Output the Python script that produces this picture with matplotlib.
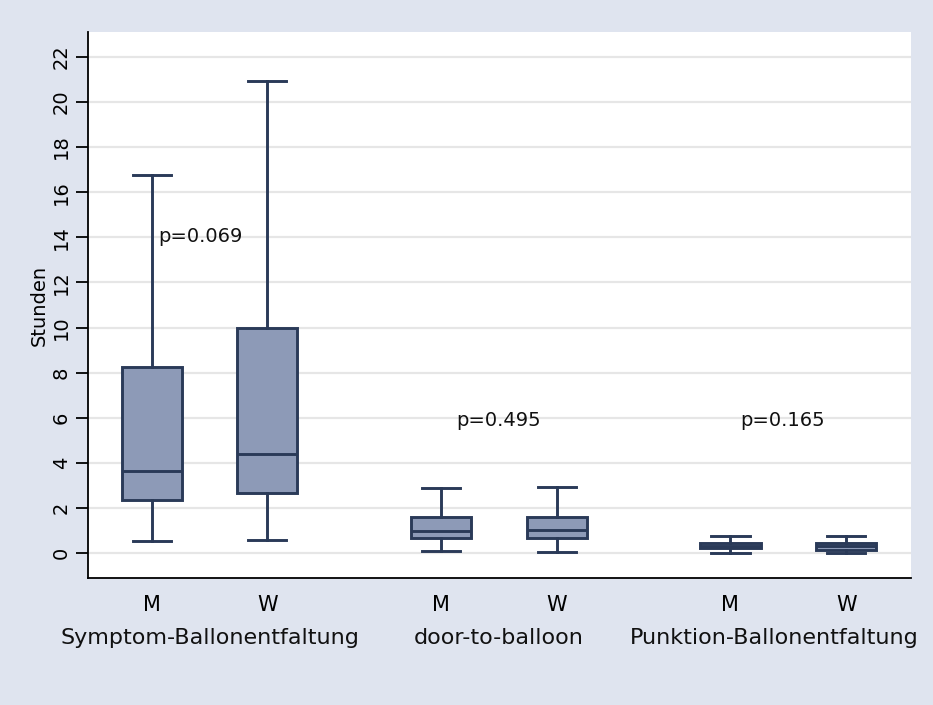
import matplotlib
matplotlib.use("Agg")
import matplotlib.pyplot as plt

# box statistics (hours)
labels = ["M", "W", "M", "W", "M", "W"]
positions = [1, 2, 3.5, 4.5, 6, 7]
whislo = [0.54, 0.60, 0.12, 0.06, 0.01, 0.00]
q1 = [2.36, 2.68, 0.69, 0.69, 0.22, 0.16]
med = [3.66, 4.40, 1.00, 1.03, 0.33, 0.34]
q3 = [8.27, 9.99, 1.59, 1.59, 0.44, 0.46]
whishi = [16.78, 20.92, 2.90, 2.95, 0.78, 0.78]

groups = ["Symptom-Ballonentfaltung", "door-to-balloon", "Punktion-Ballonentfaltung"]
group_pos = [1.5, 4.0, 6.38]
pvalues = ["p=0.069", "p=0.495", "p=0.165"]
p_x = [1.42, 4.0, 6.45]
p_y = [14.05, 5.9, 5.9]

bg = "#dfe4ef"
fill = "#8d9ab7"
edge = "#2a3a58"

plt.rcParams["font.family"] = "DejaVu Sans"

fig = plt.figure(figsize=(9.33, 7.05), dpi=100, facecolor=bg)
ax = fig.add_axes([0.0943, 0.180, 0.8821, 0.7746])
ax.set_facecolor("white")

stats = []
for i in range(len(labels)):
    stats.append(dict(whislo=whislo[i], q1=q1[i], med=med[i], q3=q3[i],
                      whishi=whishi[i], fliers=[]))

lw = 2.1
ax.bxp(stats, positions=positions, widths=0.52, capwidths=0.33,
       showfliers=False, patch_artist=True,
       boxprops=dict(facecolor=fill, edgecolor=edge, linewidth=lw),
       medianprops=dict(color=edge, linewidth=lw),
       whiskerprops=dict(color=edge, linewidth=lw),
       capprops=dict(color=edge, linewidth=lw))

ax.set_xlim(0.45, 7.56)
ax.set_ylim(-1.1, 23.1)
ax.set_yticks(range(0, 23, 2))
ax.yaxis.grid(True, color="#e6e6e6", linewidth=1.6)
ax.set_axisbelow(True)

ax.set_xticks(positions)
ax.set_xticklabels(labels, fontsize=15)
ax.tick_params(axis="x", length=0, pad=12)
ax.tick_params(axis="y", labelsize=14, labelrotation=90, length=9, width=1.3)
for t in ax.get_yticklabels():
    t.set_va("center")

ax.set_ylabel("Stunden", fontsize=14, labelpad=2)

for s in ["top", "right"]:
    ax.spines[s].set_visible(False)
for s in ["left", "bottom"]:
    ax.spines[s].set_linewidth(1.3)
    ax.spines[s].set_color("black")

for g, x in zip(groups, group_pos):
    ax.text(x, -0.11, g, transform=ax.get_xaxis_transform(),
            ha="center", va="center", fontsize=16, color="#111111")

for p, x, y in zip(pvalues, p_x, p_y):
    ax.text(x, y, p, ha="center", va="center", fontsize=14, color="#111111")

fig.savefig("out.png", dpi=100, facecolor=bg)
